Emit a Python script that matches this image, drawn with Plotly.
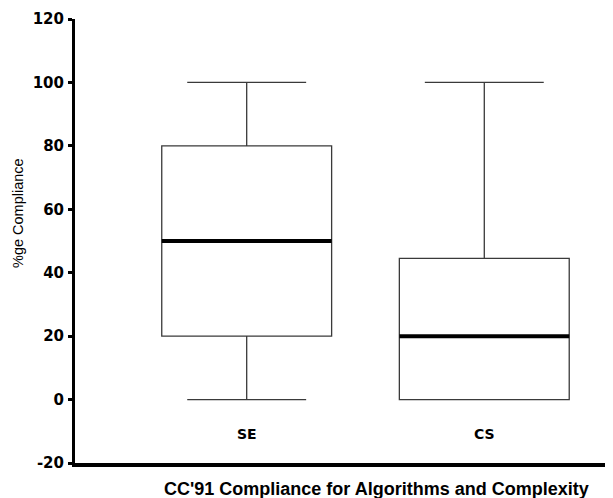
import plotly.graph_objects as go

categories = ["SE", "CS"]
lower = [0, 0]
q1 = [20, 0]
median = [50, 20]
q3 = [80, 44.5]
upper = [100, 100]
y_ticks = [-20, 0, 20, 40, 60, 80, 100, 120]
y_tick_text = ["-20", "0", "20", "40", "60", "80", "100", "120"]

box_w = 0.715
fig = go.Figure()
fig.add_trace(go.Box(
    x=categories, q1=q1, median=median, q3=q3,
    lowerfence=lower, upperfence=upper,
    width=box_w, whiskerwidth=0.70,
    fillcolor="rgba(0,0,0,0)",
    line=dict(color="#3a3a3a", width=1.3),
    boxpoints=False, hoverinfo="skip",
))

for i, m in enumerate(median):
    fig.add_shape(type="line", xref="x", yref="y",
                  x0=i - box_w / 2, x1=i + box_w / 2, y0=m, y1=m,
                  line=dict(color="black", width=4))

for c in categories:
    fig.add_annotation(x=c, y=-10.8, xref="x", yref="y", text="<b>" + c + "</b>",
                       showarrow=False,
                       font=dict(family="DejaVu Sans", size=14, color="black"),
                       xanchor="center", yanchor="middle")

fig.add_annotation(x=0.5604, y=-0.0586, xref="paper", yref="paper",
                   text="<b>CC'91 Compliance for Algorithms and Complexity</b>",
                   showarrow=False, xanchor="center", yanchor="middle",
                   font=dict(family="Liberation Sans", size=18, color="black"))
fig.add_annotation(x=-0.106, y=0.563, xref="paper", yref="paper",
                   text="%ge Compliance", textangle=-90,
                   showarrow=False, xanchor="center", yanchor="middle",
                   font=dict(family="Liberation Sans", size=14.5, color="black"))

# page body has an 8px margin; figure coordinates = screen - 8
fig.update_layout(
    width=605, height=490,
    margin=dict(l=67, r=0, t=11, b=35),
    paper_bgcolor="white", plot_bgcolor="white",
    showlegend=False,
    xaxis=dict(range=[-0.7226, 1.5417], showticklabels=False, ticks="",
               showline=True, linecolor="black", linewidth=4,
               showgrid=False, zeroline=False),
    yaxis=dict(range=[-20, 120], tickvals=y_ticks, ticktext=y_tick_text,
               ticks="outside", ticklen=4,
               tickwidth=3, tickcolor="black",
               showline=True, linecolor="black", linewidth=3,
               showgrid=False, zeroline=False,
               tickfont=dict(family="DejaVu Sans", size=15, color="black",
                             weight="bold"),
               ticklabelstandoff=1),
)

fig.write_html("out.html")
